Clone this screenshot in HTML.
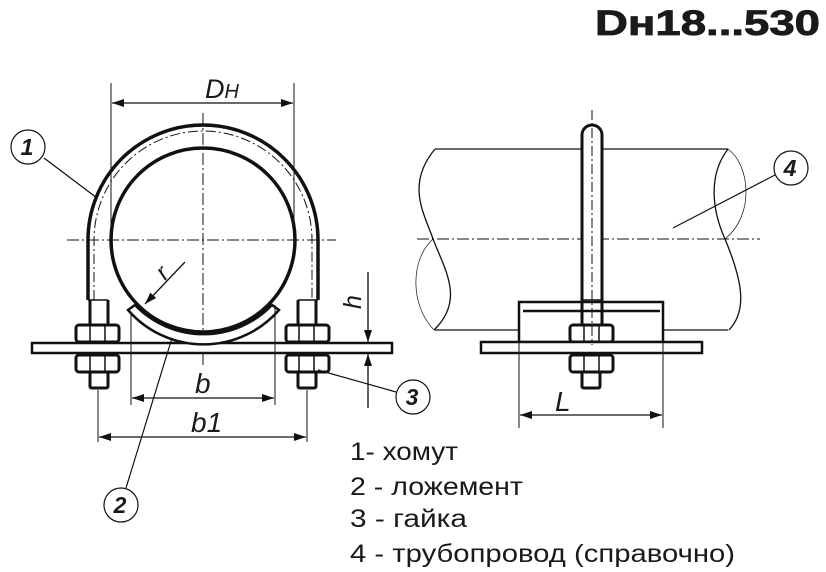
<!DOCTYPE html>
<html><head><meta charset="utf-8"><style>
html,body{margin:0;padding:0;background:#fff;}
svg{display:block;}
text{font-family:"Liberation Sans","DejaVu Sans",sans-serif;fill:#1a1a1a;}
</style></head><body>
<svg width="826" height="572" viewBox="0 0 826 572" xmlns="http://www.w3.org/2000/svg">
<defs>
<marker id="ar" viewBox="0 0 12 8" refX="12" refY="4" markerWidth="12" markerHeight="8" markerUnits="userSpaceOnUse" orient="auto-start-reverse"><path d="M0,0 L12,4 L0,8 z" fill="#111"/></marker>
</defs>
<text x="595" y="35" font-size="35" font-weight="bold" textLength="225" lengthAdjust="spacingAndGlyphs" stroke="#1a1a1a" stroke-width="0.8">Dн18...530</text>

<g stroke="#111" fill="none">
<line x1="67" y1="240" x2="336" y2="240" stroke-width="1" stroke-dasharray="12,3,2,3"/>
<line x1="203" y1="113" x2="203" y2="365" stroke-width="1" stroke-dasharray="12,3,2,3"/>
<circle cx="203" cy="240" r="92" stroke-width="3.5"/>
<path d="M88,300 V240 A115,115 0 0 1 318,240 V300" stroke-width="3.5"/>
<path d="M94,300 V240 A109,109 0 0 1 312,240 V300" stroke-width="1" stroke-dasharray="10,3,2,3"/>
<line x1="88" y1="300" x2="108" y2="300" stroke-width="1.5"/>
<line x1="298" y1="300" x2="318" y2="300" stroke-width="1.5"/>
<path d="M90,300 V325 M108,300 V325 M298,300 V325 M316,300 V325" stroke-width="3"/>
<rect x="76" y="325" width="43" height="17" rx="3" stroke-width="3"/>
<rect x="76" y="355" width="43" height="17" rx="3" stroke-width="3"/>
<path d="M90,325 V342 M105,325 V342 M90,355 V372 M105,355 V372" stroke-width="1.5"/>
<path d="M90,372 V386 Q90,388 92,388 H106 Q108,388 108,386 V372" stroke-width="3"/>
<rect x="286" y="325" width="43" height="17" rx="3" stroke-width="3"/>
<rect x="286" y="355" width="43" height="17" rx="3" stroke-width="3"/>
<path d="M299,325 V342 M314,325 V342 M299,355 V372 M314,355 V372" stroke-width="1.5"/>
<path d="M298,372 V386 Q298,388 300,388 H314 Q316,388 316,386 V372" stroke-width="3"/>
<rect x="32" y="343" width="360" height="10" stroke-width="2.5" fill="#fff"/>
<path d="M128,310 L135,305 A95,95 0 0 0 272,305 L279,310 A100,100 0 0 1 128,310 z" stroke-width="2.5" fill="#fff"/>
<line x1="111" y1="83" x2="111" y2="240" stroke-width="1"/>
<line x1="294" y1="83" x2="294" y2="240" stroke-width="1"/>
<line x1="112" y1="103" x2="293" y2="103" stroke-width="1.3" marker-start="url(#ar)" marker-end="url(#ar)"/>
<line x1="185" y1="262" x2="145" y2="304" stroke-width="1.3" marker-end="url(#ar)"/>
<line x1="131" y1="315" x2="131" y2="405" stroke-width="1"/>
<line x1="275" y1="305" x2="275" y2="405" stroke-width="1"/>
<line x1="132" y1="398" x2="274" y2="398" stroke-width="1.3" marker-start="url(#ar)" marker-end="url(#ar)"/>
<line x1="98" y1="390" x2="98" y2="442" stroke-width="1"/>
<line x1="307" y1="390" x2="307" y2="442" stroke-width="1"/>
<line x1="99" y1="437" x2="306" y2="437" stroke-width="1.3" marker-start="url(#ar)" marker-end="url(#ar)"/>
<line x1="368" y1="272" x2="368" y2="342" stroke-width="1.3" marker-end="url(#ar)"/>
<line x1="368" y1="408" x2="368" y2="354" stroke-width="1.3" marker-end="url(#ar)"/>
<line x1="355" y1="343" x2="392" y2="343" stroke-width="1"/>
<circle cx="28" cy="147" r="17" stroke-width="1.2"/>
<line x1="44" y1="158" x2="97" y2="198" stroke-width="1.2"/>
<circle cx="121" cy="505" r="17" stroke-width="1.2"/>
<line x1="126" y1="488" x2="172" y2="338" stroke-width="1.2"/>
<circle cx="413" cy="397" r="17" stroke-width="1.2"/>
<line x1="396" y1="392" x2="318" y2="370" stroke-width="1.2"/>
<circle cx="791" cy="168" r="17" stroke-width="1.2"/>
<line x1="775" y1="175" x2="673" y2="228" stroke-width="1.2"/>

<line x1="435" y1="149" x2="728" y2="149" stroke-width="1.3"/>
<line x1="435" y1="330" x2="728" y2="330" stroke-width="1.3"/>
<path d="M435,149 C405,185 425,215 433,239 C445,270 465,300 434,330" stroke-width="1.3"/>
<path d="M433,239 C410,260 410,305 434,330" stroke-width="0.7"/>
<path d="M728,149 C708,175 712,210 725,239 C742,280 748,310 729,330" stroke-width="1.3"/>
<path d="M728,149 C750,165 755,215 725,239" stroke-width="0.7"/>
<line x1="417" y1="239" x2="760" y2="239" stroke-width="1" stroke-dasharray="12,3,2,3"/>
<rect x="519" y="302" width="144" height="40" stroke-width="2.5" fill="#fff"/>
<line x1="523" y1="311" x2="660" y2="311" stroke-width="2.5"/>
<path d="M582,300 V135 A10,10 0 0 1 602,135 V300" stroke-width="3" fill="#fff"/>
<line x1="582" y1="300" x2="602" y2="300" stroke-width="1.5"/>
<path d="M582,300 V325 M602,300 V325" stroke-width="3"/>
<rect x="570" y="325" width="43" height="17" rx="3" stroke-width="3" fill="#fff"/>
<rect x="570" y="355" width="43" height="17" rx="3" stroke-width="3" fill="#fff"/>
<path d="M584,325 V342 M599,325 V342 M584,355 V372 M599,355 V372" stroke-width="1.5"/>
<path d="M582,372 V386 Q582,388 584,388 H598 Q600,388 600,386 V372" stroke-width="3"/>
<rect x="481" y="342" width="221" height="11" stroke-width="2.5" fill="#fff"/>
<line x1="592" y1="110" x2="592" y2="345" stroke-width="1" stroke-dasharray="10,3,2,3"/>
<line x1="519" y1="342" x2="519" y2="428" stroke-width="1"/>
<line x1="663" y1="342" x2="663" y2="428" stroke-width="1"/>
<line x1="520" y1="415" x2="662" y2="415" stroke-width="1.3" marker-start="url(#ar)" marker-end="url(#ar)"/>
</g>

<g font-style="italic">
<text x="205" y="98" font-size="27">D<tspan font-size="20">Н</tspan></text>
<text x="165" y="281" font-size="24" transform="rotate(-45 165 281)">r</text>
<text x="195" y="393" font-size="28">b</text>
<text x="191" y="432" font-size="28">b1</text>
<text x="361" y="302" font-size="25" transform="rotate(-90 361 302)" text-anchor="middle">h</text>
<text x="555" y="411" font-size="28">L</text>
<g font-weight="bold" font-size="23" text-anchor="middle">
<text x="27" y="155">1</text>
<text x="120" y="513">2</text>
<text x="412" y="405">3</text>
<text x="790" y="176">4</text>
</g>
</g>
<g font-size="25">
<text x="350" y="460" textLength="108" lengthAdjust="spacingAndGlyphs">1- хомут</text>
<text x="350" y="495" textLength="173" lengthAdjust="spacingAndGlyphs">2 - ложемент</text>
<text x="350" y="527" textLength="117" lengthAdjust="spacingAndGlyphs">3 - гайка</text>
<text x="350" y="562" textLength="385" lengthAdjust="spacingAndGlyphs">4 - трубопровод (справочно)</text>
</g>
</svg>
</body></html>
